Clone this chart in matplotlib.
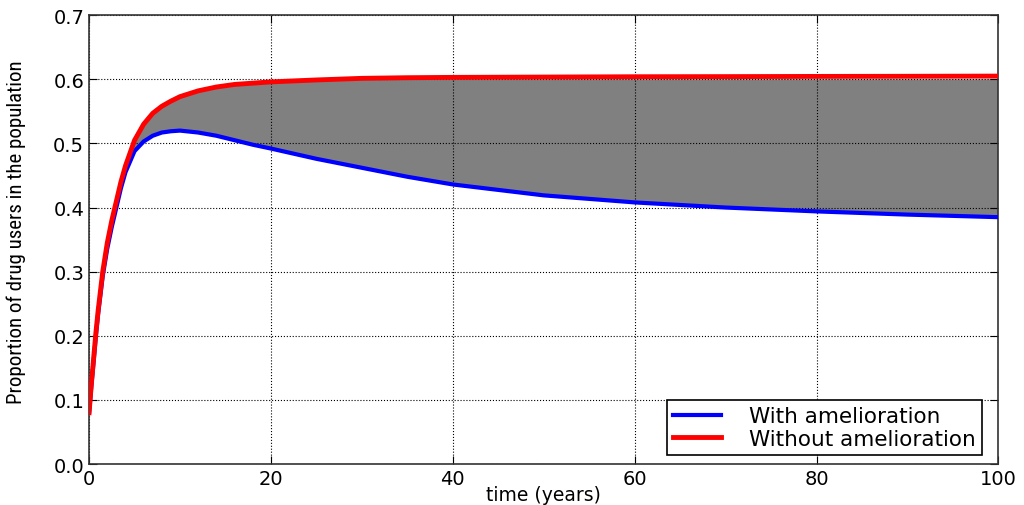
import numpy as np
import matplotlib
matplotlib.use('Agg')
import matplotlib.pyplot as plt
from matplotlib import font_manager

# values
t = [0, 0.25, 0.5, 0.75, 1, 1.5, 2, 2.5, 3, 3.5, 4, 5, 6, 7, 8, 9, 10, 12, 14,
     16, 18, 20, 25, 30, 35, 40, 50, 60, 70, 80, 90, 100]
red = [0.08, 0.125, 0.165, 0.205, 0.24, 0.30, 0.345, 0.38, 0.41, 0.44, 0.465,
       0.505, 0.53, 0.547, 0.558, 0.566, 0.573, 0.582, 0.588, 0.592, 0.594,
       0.596, 0.599, 0.6015, 0.6025, 0.603, 0.6035, 0.604, 0.6042, 0.6045,
       0.6047, 0.605]
blue = [0.08, 0.122, 0.16, 0.2, 0.235, 0.293, 0.336, 0.37, 0.40, 0.43, 0.455,
        0.488, 0.503, 0.512, 0.517, 0.519, 0.52, 0.517, 0.512, 0.505, 0.498,
        0.492, 0.476, 0.462, 0.448, 0.436, 0.419, 0.408, 0.40, 0.394, 0.389,
        0.385]
fill_top_cap = 0.6

# pick a regular-weight condensed font for the y label
narrow_font = None
prefs = ['Liberation Sans Narrow', 'Open Sans Condensed', 'DejaVu Sans Condensed',
         'Roboto Condensed', 'Noto Sans Condensed']
cands = [f for f in font_manager.fontManager.ttflist
         if f.style == 'normal' and f.weight in (400, 'normal', 'regular')
         and ('Narrow' in f.name or 'Condensed' in f.name or
              f.stretch in ('condensed', 'semi-condensed'))]
for p in prefs:
    hits = [f for f in cands if f.name == p]
    if hits:
        narrow_font = hits[0].fname
        break
if narrow_font is None and cands:
    narrow_font = cands[0].fname

fig = plt.figure(figsize=(10.24, 5.06), dpi=100)
ax = fig.add_axes([0.087, 0.081, 0.888, 0.887])

top = np.minimum(np.array(red), fill_top_cap)
ax.fill_between(t, blue, top, where=top >= np.array(blue),
                facecolor='gray', edgecolor='none', zorder=1)
ax.plot(t, blue, color='blue', lw=3, label='With amelioration', zorder=3)
ax.plot(t, red, color='red', lw=3.5, label='Without amelioration', zorder=3)

ax.set_xlim(0, 100)
ax.set_ylim(0, 0.7)
ax.set_xticks([0, 20, 40, 60, 80, 100])
ax.set_yticks([0.0, 0.1, 0.2, 0.3, 0.4, 0.5, 0.6, 0.7])
ax.set_yticklabels(['0.0', '0.1', '0.2', '0.3', '0.4', '0.5', '0.6', '0.7'])
ax.grid(True, color='black', linestyle=':', linewidth=0.8)
ax.tick_params(direction='in', length=6, top=True, right=True, labelsize=14)
for s in ax.spines.values():
    s.set_linewidth(1.2)
    s.set_color('#333333')

ax.set_xlabel('time (years)', fontsize=13.5)
ax.xaxis.set_label_coords(0.5, -0.047)
if narrow_font:
    ax.set_ylabel('Proportion of drug users in the population',
                  fontproperties=font_manager.FontProperties(fname=narrow_font, size=15))
else:
    ax.set_ylabel('Proportion of drug users in the population', fontsize=11)
ax.yaxis.set_label_coords(-0.069, 0.519)

leg = ax.legend(loc='lower right', bbox_to_anchor=(0.982, 0.02), borderaxespad=0,
                fontsize=15.5, fancybox=False, framealpha=1, edgecolor='black',
                handlelength=2.2, labelspacing=0.1, handletextpad=1.3,
                borderpad=0.3)
leg.get_frame().set_linewidth(1.2)

fig.savefig('out.png', dpi=100, facecolor='white')
